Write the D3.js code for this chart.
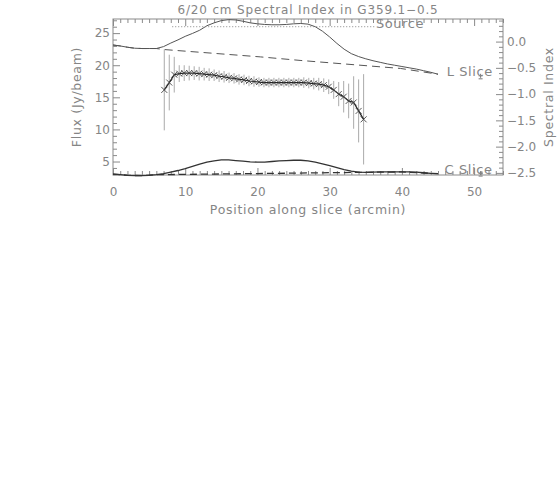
<!DOCTYPE html>
<html>
<head>
<meta charset="utf-8">
<script src="https://cdn.jsdelivr.net/npm/d3@7"></script>
<style>
  body { margin: 0; background: #fff; }
  svg { display: block; }
  text { font-family: "DejaVu Sans", sans-serif; fill: #858585; }
  .tick line { stroke: #8a8a8a; }
</style>
</head>
<body>
<script>
const width = 559,
      height = 504;

// tick labels
const posTicks = [0, 10, 20, 30, 40, 50];
const fluxTicks = [5, 10, 15, 20, 25];
const indexTicks = [0, -0.5, -1.0, -1.5, -2.0, -2.5];

// source (L band) profile along the slice, Jy/beam
const srcPos  = [0, 1, 2, 3, 4, 5, 6, 7, 8, 9, 10, 11, 12, 13, 14, 15, 16, 17, 18, 19, 20, 21, 22,
                 23, 24, 25, 26, 27, 28, 29, 30, 31, 32, 33, 34, 35, 36, 37, 38, 39, 40, 41, 42, 43, 44, 45];
const srcFlux = [23.15, 23.0, 22.8, 22.65, 22.6, 22.6, 22.6, 22.9, 23.45, 23.95, 24.5, 24.95, 25.45, 26.15,
                 26.6, 26.95, 27.1, 27.05, 26.85, 26.6, 26.45, 26.35, 26.3, 26.3, 26.35, 26.45, 26.5, 26.4,
                 26.0, 25.3, 24.4, 23.4, 22.5, 21.8, 21.35, 21.0, 20.7, 20.45, 20.2, 20.0, 19.8, 19.6,
                 19.4, 19.15, 18.9, 18.6];

// L slice background (dashed)
const lBasePos  = [0, 1, 2, 3, 4, 5, 6, 7, 20.4, 25.9, 39.8, 45];
const lBaseFlux = [23.15, 23.0, 22.8, 22.65, 22.6, 22.6, 22.6, 22.45, 21.3, 20.75, 19.5, 18.6];

// C band profile (solid, lower)
const cFlux = [3.05, 2.95, 2.85, 2.8, 2.8, 2.85, 2.95, 3.1, 3.35, 3.6, 3.9, 4.25, 4.6, 4.9, 5.1, 5.25,
               5.25, 5.15, 5.05, 4.95, 4.9, 4.9, 5.0, 5.1, 5.15, 5.2, 5.2, 5.1, 4.9, 4.65, 4.35, 4.05,
               3.75, 3.5, 3.35, 3.3, 3.35, 3.4, 3.4, 3.4, 3.4, 3.4, 3.35, 3.25, 3.15, 3.1];

// C slice background (dashed)
const cBasePos  = [0, 2, 4, 6, 20, 30, 35, 40, 44, 45];
const cBaseFlux = [3.05, 2.85, 2.8, 2.95, 3.12, 3.26, 3.32, 3.38, 3.15, 3.1];

// source level (dotted)
const srcLevelPos = [8.2, 36.3];
const srcLevel = 26.0;

// spectral index with errors
const siPos = [7.1, 7.79, 8.48, 9.17, 9.86, 10.55, 11.24, 11.93, 12.62, 13.31, 14.0, 14.69, 15.38,
               16.07, 16.76, 17.45, 18.14, 18.83, 19.52, 20.21, 20.9, 21.59, 22.28, 22.97, 23.66,
               24.35, 25.04, 25.73, 26.42, 27.11, 27.8, 28.49, 29.18, 29.87, 30.56, 31.25, 31.94,
               32.63, 33.32, 34.01, 34.7];
const siVal = [-0.92, -0.78, -0.63, -0.61, -0.60, -0.60, -0.60, -0.61, -0.62, -0.63, -0.64, -0.66,
               -0.67, -0.69, -0.70, -0.72, -0.73, -0.75, -0.76, -0.77, -0.78, -0.78, -0.78, -0.78,
               -0.78, -0.78, -0.78, -0.78, -0.78, -0.79, -0.80, -0.81, -0.83, -0.86, -0.92, -1.00,
               -1.05, -1.13, -1.16, -1.32, -1.48];
const siErr = [0.77, 0.53, 0.34, 0.16, 0.15, 0.14, 0.13, 0.13, 0.12, 0.12, 0.11, 0.11, 0.11, 0.10,
               0.10, 0.10, 0.10, 0.10, 0.10, 0.09, 0.09, 0.09, 0.09, 0.09, 0.09, 0.09, 0.09, 0.09,
               0.10, 0.10, 0.11, 0.12, 0.13, 0.14, 0.17, 0.23, 0.30, 0.33, 0.50, 0.60, 0.86];

const margin = {left: 113, right: 56, top: 19, bottom: 329};
const x0 = margin.left, x1 = width - margin.right,
      y0 = margin.top, y1 = height - margin.bottom;

const x = d3.scaleLinear().domain([0, 54]).range([x0, x1]);
const y = d3.scaleLinear().domain([2.9, 27.2]).range([y1, y0]);
const ySi = d3.scaleLinear().domain([-2.54, 0.43]).range([y1, y0]);

const svg = d3.select("body")
              .append("svg")
              .attr("width", width)
              .attr("height", height);

svg.append("rect").attr("width", width).attr("height", height).attr("fill", "#fff");

// frame
svg.append("rect")
   .attr("x", x0).attr("y", y0)
   .attr("width", x1 - x0).attr("height", y1 - y0)
   .attr("fill", "none").attr("stroke", "#8a8a8a");

function axisG(ax, tx, ty) {
    var g = svg.append("g").attr("transform", "translate(" + tx + "," + ty + ")").call(ax);
    g.select(".domain").remove();
    g.selectAll("text").style("font-size", "12px").attr("fill", "#858585");
    return g;
}

const minorX = d3.range(0, 55, 1).filter(d => d % 10 != 0);
const minorF = d3.range(3, 28, 1).filter(d => d % 5 != 0);
const minorS = d3.range(-25, 5, 1).map(d => d / 10).filter(d => Math.round(d * 10) % 5 != 0);

axisG(d3.axisBottom(x).tickValues(posTicks).tickSizeInner(-7).tickSizeOuter(0).tickPadding(12)
        .tickFormat(d3.format("d")), 0, y1);
axisG(d3.axisBottom(x).tickValues(minorX).tickSizeInner(-4).tickSizeOuter(0).tickFormat(""), 0, y1);
axisG(d3.axisTop(x).tickValues(posTicks).tickSizeInner(-7).tickSizeOuter(0).tickFormat(""), 0, y0);
axisG(d3.axisTop(x).tickValues(minorX).tickSizeInner(-4).tickSizeOuter(0).tickFormat(""), 0, y0);

axisG(d3.axisLeft(y).tickValues(fluxTicks).tickSizeInner(-7).tickSizeOuter(0).tickPadding(3)
        .tickFormat(d3.format("d")), x0, 0);
axisG(d3.axisLeft(y).tickValues(minorF).tickSizeInner(-4).tickSizeOuter(0).tickFormat(""), x0, 0);

axisG(d3.axisRight(ySi).tickValues(indexTicks).tickSizeInner(-7).tickSizeOuter(0).tickPadding(4)
        .tickFormat(d3.format(".1f")), x1, 0);
axisG(d3.axisRight(ySi).tickValues(minorS).tickSizeInner(-4).tickSizeOuter(0).tickFormat(""), x1, 0);

// curves
const line = d3.line().x(d => x(d[0])).y(d => y(d[1]));
const zip = (a, b) => a.map((v, i) => [v, b[i]]);

svg.append("path").datum(zip(srcPos, srcFlux))
   .attr("d", line).attr("fill", "none").attr("stroke", "#555").attr("stroke-width", 1);

svg.append("path").datum(zip(lBasePos, lBaseFlux))
   .attr("d", line).attr("fill", "none").attr("stroke", "#555").attr("stroke-width", 1)
   .attr("stroke-dasharray", "8,5");

svg.append("path").datum(srcLevelPos.map(p => [p, srcLevel]))
   .attr("d", line).attr("fill", "none").attr("stroke", "#888").attr("stroke-width", 1)
   .attr("stroke-dasharray", "1,2");

svg.append("path").datum(zip(cBasePos, cBaseFlux))
   .attr("d", line).attr("fill", "none").attr("stroke", "#333").attr("stroke-width", 1.3)
   .attr("stroke-dasharray", "7,4");

svg.append("path").datum(zip(srcPos, cFlux))
   .attr("d", line).attr("fill", "none").attr("stroke", "#333").attr("stroke-width", 1.3);

// spectral index: error bars, line, crosses
const si = siPos.map((p, i) => ({p: p, v: siVal[i], e: siErr[i]}));

svg.append("g").selectAll("line")
   .data(si).enter().append("line")
   .attr("x1", d => x(d.p)).attr("x2", d => x(d.p))
   .attr("y1", d => ySi(d.v + d.e)).attr("y2", d => ySi(d.v - d.e))
   .attr("stroke", "#aaa").attr("stroke-width", 1);

svg.append("path").datum(si)
   .attr("d", d3.line().x(d => x(d.p)).y(d => ySi(d.v)))
   .attr("fill", "none").attr("stroke", "#222").attr("stroke-width", 1.2);

svg.append("g").selectAll("path")
   .data(si).enter().append("path")
   .attr("transform", d => "translate(" + x(d.p) + "," + ySi(d.v) + ")")
   .attr("d", "M-3,-3L3,3M-3,3L3,-3")
   .attr("stroke", "#444").attr("stroke-width", 0.9).attr("fill", "none");

// small markers next to labels
[[50.9, 18.35], [50.9, 3.2]].forEach(function(m) {
    svg.append("path")
       .attr("transform", "translate(" + x(m[0]) + "," + y(m[1]) + ")")
       .attr("d", "M-2,0L2,0M0,-2L0,2M-2,3L2,3")
       .attr("stroke", "#777").attr("fill", "none");
});

// labels
svg.append("text").attr("x", x(36.4)).attr("y", y(26.0) + 1)
   .style("font-size", "13px").style("letter-spacing", "0.6px").text("Source");
svg.append("text").attr("x", x(46.2)).attr("y", y(18.6) + 2)
   .style("font-size", "13px").style("letter-spacing", "0.6px").text("L Slice");
svg.append("text").attr("x", x(45.9)).attr("y", y(2.9) - 1)
   .style("font-size", "13px").style("letter-spacing", "0.6px").text("C Slice");

svg.append("text").attr("x", 308).attr("y", 14).attr("text-anchor", "middle")
   .style("font-size", "12px").style("letter-spacing", "0.85px")
   .text("6/20 cm Spectral Index in G359.1\u22120.5");

svg.append("text").attr("x", 308).attr("y", 214).attr("text-anchor", "middle")
   .style("font-size", "12.5px").style("letter-spacing", "0.7px")
   .text("Position along slice (arcmin)");

svg.append("text").attr("transform", "translate(81," + ((y0 + y1) / 2) + ")rotate(-90)")
   .attr("text-anchor", "middle").style("font-size", "12.5px").style("letter-spacing", "0.7px")
   .text("Flux (Jy/beam)");

svg.append("text").attr("transform", "translate(553," + ((y0 + y1) / 2) + ")rotate(-90)")
   .attr("text-anchor", "middle").style("font-size", "12.5px").style("letter-spacing", "0.7px")
   .text("Spectral Index");
</script>
</body>
</html>
